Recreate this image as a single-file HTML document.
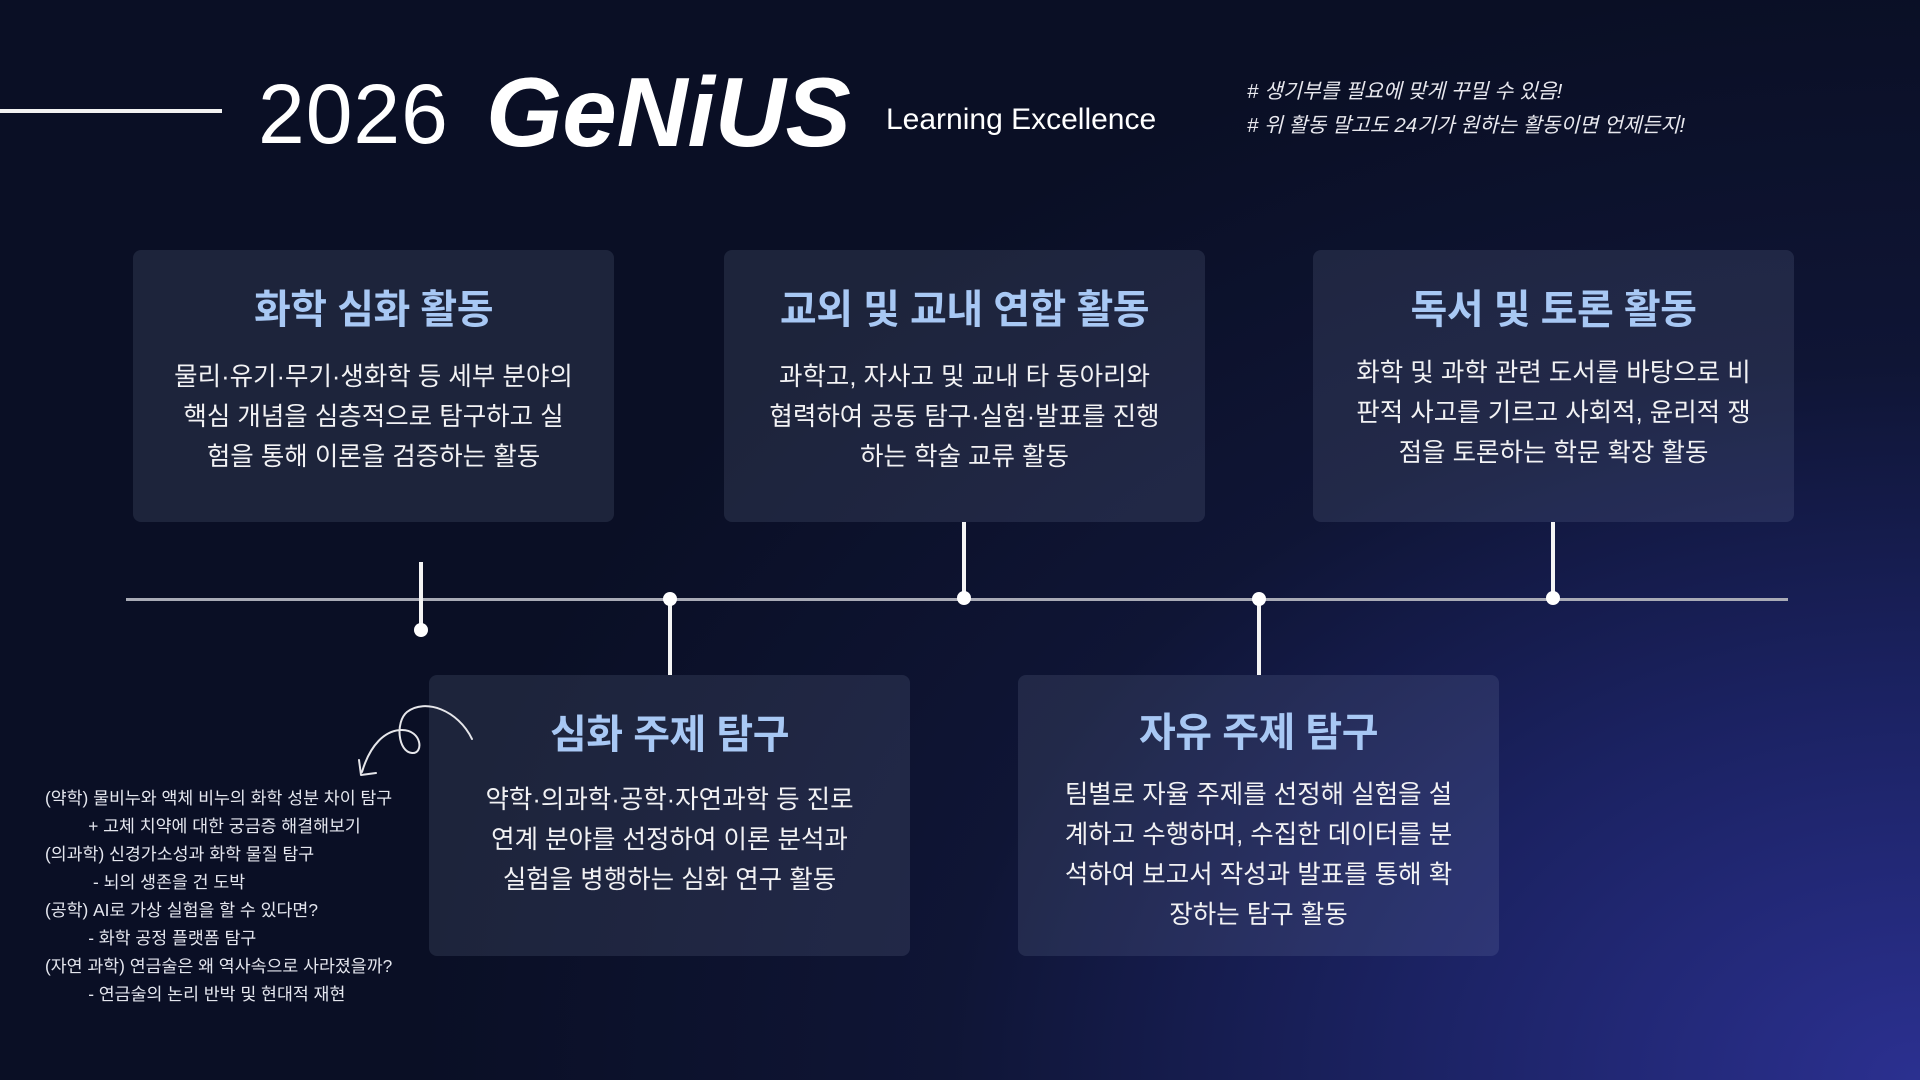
<!DOCTYPE html>
<html lang="ko">
<head>
<meta charset="utf-8">
<style>
html,body{margin:0;padding:0;}
body{width:1920px;height:1080px;overflow:hidden;position:relative;
 background:radial-gradient(ellipse 1500px 1100px at 100% 100%, #2b3090 0%, #1b2262 35%, #0f1535 65%, #0a0f25 100%);
 font-family:"Liberation Sans","Noto Sans CJK KR",sans-serif;color:#fff;}
.abs{position:absolute;}
.card{position:absolute;width:481px;border-radius:8px;background:rgba(175,190,225,0.12);text-align:center;}
.card h2{margin:0;font-size:40px;font-weight:700;color:#a8c8f4;letter-spacing:-0.5px;}
.card p{margin:0;font-size:25.5px;line-height:40px;color:#f2f2f4;}
.vl{position:absolute;width:4px;background:#f4f4f4;}
.dot{position:absolute;width:14px;height:14px;border-radius:50%;background:#fff;}
.note{position:absolute;left:45px;top:784px;font-size:17.3px;line-height:28px;color:#e4e6ee;white-space:pre;}
</style>
</head>
<body>
<div class="abs" style="left:0;top:109px;width:222px;height:4px;background:#f2f2f2;"></div>
<div class="abs" style="left:258px;top:64px;font-size:84px;font-weight:400;line-height:100px;letter-spacing:1px;">2026</div>
<div class="abs" style="left:486px;top:54px;font-size:98px;font-weight:700;font-style:italic;line-height:116px;">GeNiUS</div>
<div class="abs" style="left:886px;top:101px;font-size:30px;line-height:38px;">Learning Excellence</div>
<div class="abs" style="left:1247px;top:75px;font-size:20.5px;line-height:34px;font-style:italic;color:#e8e8ee;"># 생기부를 필요에 맞게 꾸밀 수 있음!<br># 위 활동 말고도 24기가 원하는 활동이면 언제든지!</div>

<div class="abs" style="left:126px;top:598px;width:1662px;height:3px;background:#a9abb6;"></div>

<div class="card" style="left:133px;top:250px;height:272px;">
 <h2 style="margin-top:27px;">화학 심화 활동</h2>
 <p style="margin-top:22px;">물리·유기·무기·생화학 등 세부 분야의<br>핵심 개념을 심층적으로 탐구하고 실<br>험을 통해 이론을 검증하는 활동</p>
</div>
<div class="card" style="left:724px;top:250px;height:272px;">
 <h2 style="margin-top:27px;">교외 및 교내 연합 활동</h2>
 <p style="margin-top:22px;">과학고, 자사고 및 교내 타 동아리와<br>협력하여 공동 탐구·실험·발표를 진행<br>하는 학술 교류 활동</p>
</div>
<div class="card" style="left:1313px;top:250px;height:272px;">
 <h2 style="margin-top:27px;">독서 및 토론 활동</h2>
 <p style="margin-top:18px;">화학 및 과학 관련 도서를 바탕으로 비<br>판적 사고를 기르고 사회적, 윤리적 쟁<br>점을 토론하는 학문 확장 활동</p>
</div>
<div class="card" style="left:429px;top:675px;height:281px;">
 <h2 style="margin-top:27px;">심화 주제 탐구</h2>
 <p style="margin-top:20px;">약학·의과학·공학·자연과학 등 진로<br>연계 분야를 선정하여 이론 분석과<br>실험을 병행하는 심화 연구 활동</p>
</div>
<div class="card" style="left:1018px;top:675px;height:281px;">
 <h2 style="margin-top:25px;">자유 주제 탐구</h2>
 <p style="margin-top:17px;">팀별로 자율 주제를 선정해 실험을 설<br>계하고 수행하며, 수집한 데이터를 분<br>석하여 보고서 작성과 발표를 통해 확<br>장하는 탐구 활동</p>
</div>

<div class="vl" style="left:419px;top:562px;height:66px;"></div>
<div class="dot" style="left:414px;top:623px;"></div>
<div class="vl" style="left:668px;top:600px;height:75px;"></div>
<div class="dot" style="left:663px;top:592px;"></div>
<div class="vl" style="left:962px;top:522px;height:78px;"></div>
<div class="dot" style="left:957px;top:591px;"></div>
<div class="vl" style="left:1257px;top:600px;height:75px;"></div>
<div class="dot" style="left:1252px;top:592px;"></div>
<div class="vl" style="left:1551px;top:522px;height:78px;"></div>
<div class="dot" style="left:1546px;top:591px;"></div>

<svg class="abs" style="left:340px;top:690px;" width="160" height="100" viewBox="0 0 160 100">
 <path d="M132 49 C118 20 85 8 67 22 C55 32 58 62 72 63 C84 64 82 40 62 40 C45 40 30 55 22 82" fill="none" stroke="#e6e6ea" stroke-width="2" stroke-linecap="round"/>
 <path d="M19 70 L21 85 L36 83" fill="none" stroke="#e6e6ea" stroke-width="2" stroke-linecap="round" stroke-linejoin="round"/>
</svg>

<div class="note">(약학) 물비누와 액체 비누의 화학 성분 차이 탐구
         + 고체 치약에 대한 궁금증 해결해보기
(의과학) 신경가소성과 화학 물질 탐구
          - 뇌의 생존을 건 도박
(공학) AI로 가상 실험을 할 수 있다면?
         - 화학 공정 플랫폼 탐구
(자연 과학) 연금술은 왜 역사속으로 사라졌을까?
         - 연금술의 논리 반박 및 현대적 재현</div>
</body>
</html>
